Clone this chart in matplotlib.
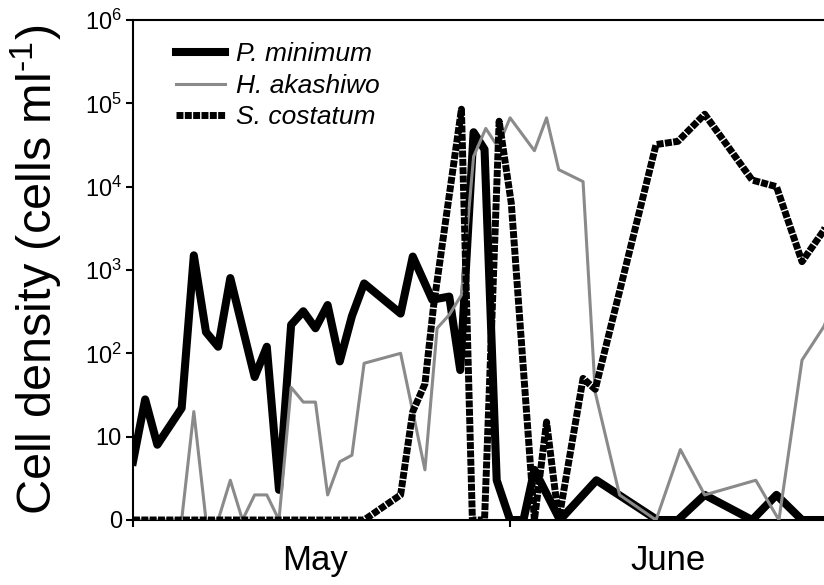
import numpy as np
import matplotlib
matplotlib.use("Agg")
import matplotlib.pyplot as plt

plt.rcParams['font.family'] = ['Liberation Sans', 'DejaVu Sans']
plt.rcParams['mathtext.fontset'] = 'custom'
plt.rcParams['mathtext.rm'] = 'Liberation Sans'
plt.rcParams['mathtext.it'] = 'Liberation Sans:italic'
plt.rcParams['mathtext.default'] = 'regular'

# days counted from 1 May, cell densities in cells/ml (0 = not detected)
pm_day = [0, 1, 2, 4, 5, 6, 7, 8, 10, 11, 12, 13, 14, 15, 16, 17, 18, 19, 22, 23,
          24.6, 26, 26.9, 28, 28.9, 29.9, 31, 32.1, 33, 35.1, 38.1, 43.1, 44.8, 47,
          50.9, 52.9, 55, 56.8, 58]
pm_val = [5, 28, 8, 22, 1500, 180, 120, 800, 52, 120, 2.3, 220, 320, 200, 380, 80, 280, 690, 300, 1450,
          440, 480, 63, 45000, 28000, 3, 0, 0, 4, 0, 3, 0, 0, 2,
          0, 2, 0, 0, 0]

ha_day = [0, 1, 2, 3, 4, 5, 6, 7, 8, 9, 10, 11, 12, 13, 14, 15, 16, 17, 18, 19,
          22, 24, 25, 26, 27, 28, 29, 30, 31, 33, 34, 35, 37, 38, 40, 43, 45, 47,
          51.2, 53.1, 55, 56.8, 58]
ha_val = [0, 0, 0, 0, 0, 20, 0, 0, 3, 0, 2, 2, 0, 39, 26, 26, 2, 5, 6, 76,
          100, 4, 200, 290, 500, 23000, 50000, 30000, 67000, 27000, 67000, 16000, 11500, 34, 2, 0, 7, 2,
          3, 0, 83, 210, 600]

sc_day = [0, 1, 2, 3, 4, 5, 6, 7, 8, 9, 10, 11, 12, 13, 14, 15, 16, 17, 18, 19,
          22, 23, 24, 24.7, 27, 27.9, 28.9, 30.1, 31.1, 33, 34, 35, 37, 38, 43, 44.8,
          47, 50.9, 52.9, 55, 56.8, 58]
sc_val = [0, 0, 0, 0, 0, 0, 0, 0, 0, 0, 0, 0, 0, 0, 0, 0, 0, 0, 0, 0,
          2, 20, 43, 360, 85000, 0, 0, 61000, 6300, 0, 15, 0, 50, 37, 32000, 35000,
          74000, 12000, 10000, 1260, 3000, 8000]

month_names = ['May', 'June']
month_centres = [15, 44]
month_starts = [0, 31]
ytick_labels = ['0', '10', '$10^2$', '$10^3$', '$10^4$', '$10^5$', '$10^6$']


def to_log(v):
    # zero is drawn on the bottom line (same place as 1 cell/ml)
    return np.log10(np.maximum(np.array(v, dtype=float), 1))


fig = plt.figure(figsize=(8.24, 5.85), dpi=100)
ax = fig.add_axes([133 / 824, 65 / 585, 742 / 824, 500 / 585])

ax.plot(pm_day, to_log(pm_val), color='black', lw=5.8, solid_joinstyle='round',
        label='P. minimum', zorder=2)
ax.plot(ha_day, to_log(ha_val), color='#8a8a8a', lw=2.2, label='H. akashiwo', zorder=3)
ax.plot(sc_day, to_log(sc_val), color='black', lw=5.0, linestyle=(0, (1, 0.2)),
        dash_capstyle='butt', label='S. costatum', zorder=4)

ax.set_xlim(0, 61)
ax.set_ylim(0, 6)

ax.set_yticks(range(7))
ax.set_yticklabels(ytick_labels, fontsize=17)
ax.tick_params(axis='y', direction='out', length=5, width=1.5, pad=3)

ax.set_xticks(month_starts)
ax.set_xticklabels([])
ax.set_xticks(month_centres, minor=True)
ax.set_xticklabels(month_names, minor=True, fontsize=25)
ax.tick_params(axis='x', which='major', direction='out', length=5, width=1.5)
ax.tick_params(axis='x', which='minor', length=0, pad=17)

for side in ['left', 'bottom', 'top']:
    ax.spines[side].set_linewidth(1.5)
ax.spines['right'].set_visible(False)

ax.set_ylabel('Cell density (cells ml$^{\\text{-}1}$)', fontsize=35, labelpad=15)

leg = ax.legend(loc='upper left', bbox_to_anchor=(0.028, 1.0), frameon=False,
                fontsize=19, handlelength=1.85, handletextpad=0.4,
                labelspacing=0.28, borderaxespad=0.45)
for t in leg.get_texts():
    t.set_fontstyle('italic')

fig.savefig('out.png', dpi=100)
